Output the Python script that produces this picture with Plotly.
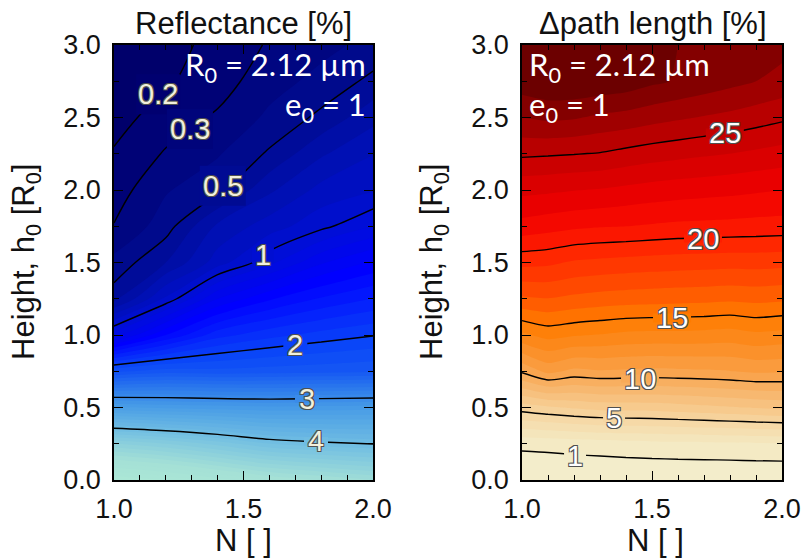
import numpy as np
import plotly.graph_objects as go

W, H = 806, 558

# ---------------- data ----------------
h_vals = [0.0, 0.25, 0.5, 0.75, 1.0, 1.25, 1.5, 1.75, 2.0, 2.25, 2.5, 2.75, 3.0]

# Reflectance [%], columns at N = 1.0, 1.2, ..., 2.0 ; values listed from h=0 to h=3
N_refl = [1.0, 1.2, 1.4, 1.6, 1.8, 2.0]
refl_N10 = [5.4, 4.51, 3.32, 2.177, 1.147, 0.555, 0.43, 0.305, 0.25, 0.21, 0.16, 0.13, 0.10]
refl_N12 = [5.3, 4.405, 3.28, 2.249, 1.5, 0.92, 0.60, 0.453, 0.39, 0.31, 0.248, 0.188, 0.16]
refl_N14 = [5.15, 4.262, 3.253, 2.232, 1.76, 1.298, 0.85, 0.72, 0.47, 0.39, 0.315, 0.2525, 0.235]
refl_N16 = [5.0, 4.105, 3.227, 2.247, 1.866, 1.486, 1.07, 0.85, 0.68, 0.515, 0.42, 0.36, 0.31]
refl_N18 = [4.9, 4.038, 3.238, 2.263, 1.9375, 1.612, 1.286, 0.97, 0.833, 0.685, 0.525, 0.43, 0.37]
refl_N20 = [4.8, 3.994, 3.253, 2.28, 1.992, 1.704, 1.415, 1.10, 0.89, 0.797, 0.667, 0.527, 0.43]
refl_levels = [0.2, 0.3, 0.5, 1, 2, 3, 4]
refl_label_N = [1.17, 1.293, 1.42, 1.575, 1.70, 1.745, 1.78]
refl_label_h = [2.66, 2.42, 2.03, 1.55, 0.93, 0.56, 0.268]

# Delta path length [%], columns at N = 1.0, 1.1, ..., 2.0
N_path = [1.0, 1.1, 1.2, 1.3, 1.4, 1.5, 1.6, 1.7, 1.8, 1.9, 2.0]
path_N10 = [0, 1.25, 5.49, 10.19, 13.8, 16.83, 19.3, 21.63, 23.27, 25.19, 27.0, 28.6, 28.2]
path_N11 = [0, 1.316, 5.853, 11.31, 14.35, 16.97, 19.2, 21.40, 23.18, 25.12, 27.2, 28.9, 28.5]
path_N12 = [0, 1.429, 6.128, 10.74, 14.1, 16.75, 18.87, 21.20, 23.04, 25.04, 27.1, 28.9, 28.6]
path_N13 = [0, 1.515, 6.355, 10.91, 13.95, 16.575, 18.74, 21.07, 22.93, 24.94, 26.8, 28.8, 28.6]
path_N14 = [0, 1.613, 6.397, 10.834, 13.75, 16.47, 18.64, 21.0, 22.76, 24.69, 26.63, 28.6, 28.5]
path_N15 = [0, 1.689, 6.446, 10.759, 13.7, 16.41, 18.55, 20.89, 22.59, 24.47, 26.36, 28.2, 28.2]
path_N16 = [0, 1.748, 6.587, 10.811, 13.7, 16.34, 18.48, 20.78, 22.46, 24.30, 26.14, 27.9, 28.0]
path_N17 = [0, 1.786, 6.746, 10.875, 13.65, 16.29, 18.43, 20.74, 22.36, 24.14, 25.93, 27.6, 27.9]
path_N18 = [0, 1.825, 6.913, 10.975, 13.55, 16.20, 18.37, 20.70, 22.26, 23.99, 25.73, 27.3, 27.7]
path_N19 = [0, 1.88, 7.08, 11.18, 13.8, 16.30, 18.39, 20.63, 22.13, 23.8, 25.47, 27.0, 27.5]
path_N20 = [0, 1.923, 7.228, 11.12, 13.65, 16.19, 18.32, 20.59, 22.01, 23.6, 25.19, 26.7, 27.3]
path_levels = [1, 5, 10, 15, 20, 25]
path_label_N = [1.204, 1.354, 1.454, 1.577, 1.696, 1.78]
path_label_h = [0.165, 0.428, 0.70, 1.118, 1.665, 2.39]

x_ticks = [1.0, 1.5, 2.0]
y_ticks = [0.0, 0.5, 1.0, 1.5, 2.0, 2.5, 3.0]

refl_z = np.array([refl_N10, refl_N12, refl_N14, refl_N16, refl_N18, refl_N20]).T
path_z = np.array([path_N10, path_N11, path_N12, path_N13, path_N14, path_N15,
                   path_N16, path_N17, path_N18, path_N19, path_N20]).T

# ---------------- colour maps (value -> colour) ----------------
REFL_START, REFL_END, REFL_STEP = 0.0, 5.5, 0.1
PATH_START, PATH_END, PATH_STEP = 0.0, 30.0, 1.0

blue_stops = [
    (-0.05, "#000058"), (0.2, "#000070"), (0.45, "#000a8c"), (0.75, "#0010b4"),
    (1.05, "#000ed8"), (1.45, "#0000ff"), (2.05, "#0a46f8"), (2.7, "#2a78ec"),
    (3.3, "#4a9ee6"), (4.1, "#74c0e2"), (4.9, "#a4e0d6"), (5.55, "#aeead6"),
]
red_stops = [
    (-0.5, "#f2f0d2"), (2.0, "#f4e8c0"), (5.0, "#f6d6a2"), (8.0, "#f7bd78"),
    (10.0, "#f8aa58"), (13.0, "#fb8c22"), (15.0, "#ff7c00"), (17.0, "#ff5200"),
    (20.0, "#ff1e00"), (22.0, "#f00000"), (25.0, "#c40000"), (26.5, "#a00000"),
    (27.5, "#840000"), (28.5, "#6c0000"), (30.5, "#5e0000"),
]

# size (px) of the gap cut into each contour line under its label
refl_gap_w = [44, 46, 46, 22, 24, 24, 24]
refl_gap_h = [40, 40, 40, 16, 9, 8, 8]
path_gap_w = [22, 22, 38, 38, 38, 38]
path_gap_h = [8, 8, 8, 9, 8, 10]


def to_scale(stops):
    lo, hi = stops[0][0], stops[-1][0]
    return [[(v - lo) / (hi - lo), c] for v, c in stops]


def color_at(stops, v):
    def rgb(c):
        return [int(c[i:i + 2], 16) for i in (1, 3, 5)]
    for (v0, c0), (v1, c1) in zip(stops[:-1], stops[1:]):
        if v0 <= v <= v1:
            t = (v - v0) / (v1 - v0)
            a, b = rgb(c0), rgb(c1)
            return "rgb(%d,%d,%d)" % tuple(round(a[k] + (b[k] - a[k]) * t) for k in range(3))
    return stops[-1][1]


SANS = "Liberation Sans, Arial, sans-serif"
NOTE = "Lato, Open Sans, sans-serif"
outline = "-1px -1px 0 #505050, 1px -1px 0 #505050, -1px 1px 0 #505050, 1px 1px 0 #505050"

fig = go.Figure()

# filled contours
fig.add_trace(go.Contour(
    x=N_refl, y=h_vals, z=refl_z, xaxis="x", yaxis="y",
    colorscale=to_scale(blue_stops), autocontour=False,
    contours=dict(start=REFL_START, end=REFL_END, size=REFL_STEP, coloring="fill", showlines=False),
    line=dict(width=0, smoothing=1), showscale=False, hoverinfo="skip"))
fig.add_trace(go.Contour(
    x=N_path, y=h_vals, z=path_z, xaxis="x2", yaxis="y2",
    colorscale=to_scale(red_stops), autocontour=False,
    contours=dict(start=PATH_START, end=PATH_END, size=PATH_STEP, coloring="fill", showlines=False),
    line=dict(width=0, smoothing=0.6), showscale=False, hoverinfo="skip"))

# contour lines
for lv in refl_levels:
    fig.add_trace(go.Contour(
        x=N_refl, y=h_vals, z=refl_z, xaxis="x", yaxis="y", autocontour=False,
        contours=dict(start=lv, end=lv, size=1, coloring="none", showlabels=False),
        line=dict(color="black", width=1.4, smoothing=1), showscale=False, hoverinfo="skip"))
for lv in path_levels:
    fig.add_trace(go.Contour(
        x=N_path, y=h_vals, z=path_z, xaxis="x2", yaxis="y2", autocontour=False,
        contours=dict(start=lv, end=lv, size=1, coloring="none", showlabels=False),
        line=dict(color="black", width=1.4, smoothing=0.6), showscale=False, hoverinfo="skip"))


def px(x):
    return x / W


def py(y):
    return 1 - y / H


axis_common = dict(
    showline=True, linecolor="black", linewidth=1.5, mirror="allticks",
    ticks="inside", ticklen=9, tickwidth=1.3, tickcolor="black",
    showgrid=False, zeroline=False, tickformat=".1f", automargin=False,
    tickfont=dict(family=SANS, size=27, color="#111111"),
)
minor_x = dict(dtick=0.1, tick0=1, ticks="inside", ticklen=5, tickcolor="black", tickwidth=1.2)
minor_y = dict(dtick=0.25, tick0=0, ticks="inside", ticklen=5, tickcolor="black", tickwidth=1.2)

fig.update_layout(
    template="none",
    width=W, height=H, margin=dict(l=0, r=0, t=0, b=0, autoexpand=False),
    paper_bgcolor="white", plot_bgcolor="white", showlegend=False,
    xaxis=dict(domain=[px(114), px(373)], range=[1, 2], tickvals=x_ticks, anchor="y",
               minor=minor_x, ticklabelstandoff=4, **axis_common),
    yaxis=dict(domain=[py(480), py(45)], range=[0, 3], tickvals=y_ticks, anchor="x",
               minor=minor_y, ticklabelstandoff=6, **axis_common),
    xaxis2=dict(domain=[px(522), px(782)], range=[1, 2], tickvals=x_ticks, anchor="y2",
                minor=minor_x, ticklabelstandoff=4, **axis_common),
    yaxis2=dict(domain=[py(480), py(45)], range=[0, 3], tickvals=y_ticks, anchor="x2",
                minor=minor_y, ticklabelstandoff=6, **axis_common),
)

ann = []
shapes = []
# contour labels: a small patch in the local fill colour opens a gap in the line,
# then the horizontal label is written on top
for levels, lab_n, lab_h, gw, gh, stops, xr, yr, col in [
        (refl_levels, refl_label_N, refl_label_h, refl_gap_w, refl_gap_h, blue_stops, "x", "y", "#f2f0dc"),
        (path_levels, path_label_N, path_label_h, path_gap_w, path_gap_h, red_stops, "x2", "y2", "white")]:
    for lv, xn, yh, w_, h_ in zip(levels, lab_n, lab_h, gw, gh):
        shapes.append(dict(type="rect", xref=xr, yref=yr, xsizemode="pixel", ysizemode="pixel",
                           xanchor=xn, yanchor=yh, x0=-w_ / 2, x1=w_ / 2, y0=-h_ / 2, y1=h_ / 2,
                           fillcolor=color_at(stops, lv), line=dict(width=0), layer="above"))
        ann.append(dict(text=str(lv), x=xn, y=yh, xref=xr, yref=yr, showarrow=False,
                        xanchor="center", yanchor="middle",
                        font=dict(family=SANS, size=29, color=col, shadow=outline)))

title_font = dict(family=SANS, size=31, color="#111111")
for txt, xc, yc in [("Reflectance [%]", 243, 24), ("\u0394path length [%]", 653, 24),
                    ("N [ ]", 243, 540), ("N [ ]", 655, 540)]:
    ann.append(dict(text=txt, x=px(xc), y=py(yc), xref="paper", yref="paper",
                    xanchor="center", yanchor="middle", showarrow=False, font=title_font))
for xc in (26, 434):
    ann.append(dict(text="Height, h<sub>0</sub> [R<sub>0</sub>]", x=px(xc), y=py(262),
                    xref="paper", yref="paper", xanchor="center", yanchor="middle",
                    textangle=-90, showarrow=False, font=title_font))

# parameter notes
note_font = dict(family=NOTE, size=31, color="white")
for txt, xc, yc, anc in [("R<sub>0</sub> = 2.12 \u00b5m", 368, 67, "right"),
                         ("e<sub>0</sub> = 1", 368, 107, "right"),
                         ("R<sub>0</sub> = 2.12 \u00b5m", 527, 67, "left"),
                         ("e<sub>0</sub> = 1", 527, 107, "left")]:
    ann.append(dict(text=txt, x=px(xc), y=py(yc), xref="paper", yref="paper",
                    xanchor=anc, yanchor="middle", showarrow=False, font=note_font))

fig.update_layout(annotations=ann, shapes=shapes)
fig.write_html("out.html", config={"displayModeBar": False},
               post_script="document.body.style.margin='0';document.body.style.overflow='hidden';")
